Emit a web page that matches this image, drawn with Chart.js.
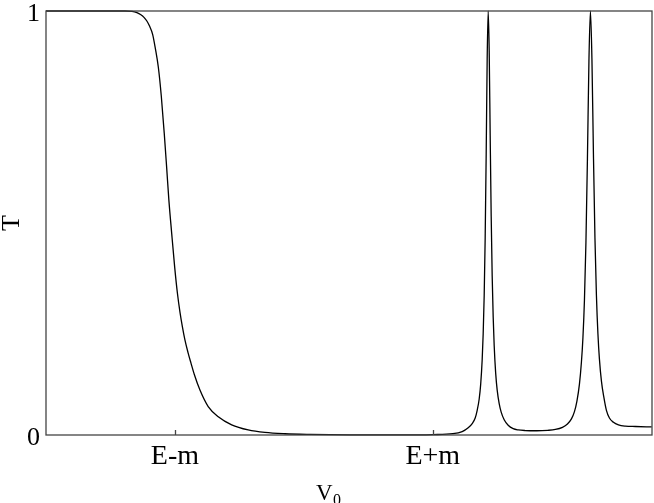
<!DOCTYPE html>
<html>
<head>
<meta charset="utf-8">
<script src="https://cdn.jsdelivr.net/npm/chart.js@4.4.0/dist/chart.umd.min.js"></script>
<style>
  html, body { margin: 0; padding: 0; background: #fff; }
</style>
</head>
<body>
<canvas id="chart" width="654" height="503"></canvas>
<script>
// V0 in units where E-m = -1 and E+m = 1, T = transmission

// step down around E-m
const dropV = [
  -2.000, -1.581, -1.388, -1.333, -1.295, -1.264, -1.240, -1.219, -1.198, -1.173,
  -1.151, -1.129, -1.106, -1.083, -1.064, -1.047, -1.025, -1.002, -0.981, -0.961,
  -0.942, -0.923, -0.899, -0.876, -0.849, -0.806, -0.742, -0.664, -0.560, -0.432,
  -0.302, -0.147, 0.047, 0.357, 0.744, 1.000
];
const dropT = [
  1.000, 1.000, 1.000, 0.999, 0.996, 0.991, 0.985, 0.977, 0.965, 0.945,
  0.910, 0.868, 0.800, 0.712, 0.630, 0.554, 0.475, 0.396, 0.335, 0.290,
  0.255, 0.225, 0.195, 0.170, 0.142, 0.106, 0.067, 0.043, 0.024, 0.012,
  0.006, 0.003, 0.0015, 0.0005, 0.0003, 0.001
];

// first resonance
const peak1V = [
  1.1551, 1.2279, 1.2745, 1.3055, 1.3287, 1.3442, 1.3597, 1.3714, 1.3830, 1.3907,
  1.3985, 1.4062, 1.4140, 1.4217, 1.4295, 1.4373, 1.4450, 1.4528, 1.4605, 1.4683,
  1.4760, 1.4876, 1.4993, 1.5148, 1.5303, 1.5535, 1.5845, 1.6233, 1.6621, 1.7163,
  1.8062
];
const peak1T = [
  0.003, 0.008, 0.017, 0.027, 0.040, 0.058, 0.085, 0.120, 0.178, 0.239,
  0.329, 0.466, 0.662, 0.887, 1.000, 0.906, 0.706, 0.516, 0.375, 0.278,
  0.211, 0.146, 0.106, 0.074, 0.054, 0.036, 0.023, 0.015, 0.012, 0.0105,
  0.010
];

// second resonance
const peak2V = [
  1.8910, 1.9512, 2.0054, 2.0442, 2.0752, 2.0985, 2.1178, 2.1372, 2.1527, 2.1644,
  2.1760, 2.1876, 2.1992, 2.2109, 2.2225, 2.2341, 2.2458, 2.2574, 2.2690, 2.2806,
  2.2923, 2.3078, 2.3272, 2.3465, 2.3698, 2.4008, 2.4396, 2.4938, 2.5713, 2.6980
];
const peak2T = [
  0.011, 0.013, 0.018, 0.026, 0.038, 0.055, 0.080, 0.120, 0.172, 0.230,
  0.318, 0.454, 0.651, 0.882, 1.000, 0.887, 0.662, 0.466, 0.329, 0.239,
  0.179, 0.127, 0.088, 0.058, 0.040, 0.030, 0.024, 0.021, 0.020, 0.019
];

const xTickValues = [-1, 1];
const xTickLabels = ['E-m', 'E+m'];
const yTickValues = [0, 1];
const yTickLabels = ['0', '1'];

const serif = "'Liberation Serif', 'Times New Roman', serif";

const vValues = dropV.concat(peak1V, peak2V);
const tValues = dropT.concat(peak1T, peak2T);
const points = vValues.map((v, i) => ({ x: v, y: tValues[i] }));

// box around the plot, inward ticks, axis titles
const framePlugin = {
  id: 'frame',
  afterDraw(chart) {
    const ctx = chart.ctx;
    const a = chart.chartArea;
    const xs = chart.scales.x;
    ctx.save();
    ctx.strokeStyle = '#444';
    ctx.lineWidth = 1.3;
    ctx.strokeRect(a.left, a.top, a.right - a.left, a.bottom - a.top);
    ctx.beginPath();
    xTickValues.forEach(v => {
      const px = Math.round(xs.getPixelForValue(v)) + 0.5;
      ctx.moveTo(px, a.bottom);
      ctx.lineTo(px, a.bottom - 5);
    });
    ctx.stroke();

    ctx.fillStyle = '#000';
    // y title
    ctx.save();
    ctx.translate(12, 223);
    ctx.rotate(-Math.PI / 2);
    ctx.font = '26px ' + serif;
    ctx.textAlign = 'center';
    ctx.textBaseline = 'middle';
    ctx.fillText('T', 0, 0);
    ctx.restore();

    // x title V with subscript 0
    ctx.textAlign = 'left';
    ctx.textBaseline = 'alphabetic';
    ctx.font = '23px ' + serif;
    ctx.fillText('V', 316, 500);
    ctx.font = '16px ' + serif;
    ctx.fillText('0', 333, 505);
    ctx.restore();
  }
};

new Chart(document.getElementById('chart'), {
  type: 'line',
  data: {
    datasets: [{
      data: points,
      borderColor: '#000',
      borderWidth: 1.3,
      pointRadius: 0,
      fill: false,
      cubicInterpolationMode: 'monotone',
      clip: 3
    }]
  },
  options: {
    responsive: false,
    animation: false,
    layout: { padding: { top: 11, right: 2, left: 0, bottom: 0 } },
    plugins: { legend: { display: false }, tooltip: { enabled: false } },
    scales: {
      x: {
        type: 'linear',
        min: -2,
        max: 2.7,
        afterBuildTicks: s => { s.ticks = xTickValues.map(v => ({ value: v })); },
        afterFit: s => { s.height = 68; s.paddingLeft = 0; s.paddingRight = 0; },
        grid: { display: false, drawTicks: false },
        border: { display: false },
        ticks: {
          padding: 5,
          color: '#000',
          font: { family: serif, size: 28 },
          maxRotation: 0,
          callback: v => xTickLabels[xTickValues.indexOf(v)]
        }
      },
      y: {
        min: 0,
        max: 1,
        afterBuildTicks: s => { s.ticks = yTickValues.map(v => ({ value: v })); },
        afterFit: s => { s.width = 46; s.paddingTop = 0; s.paddingBottom = 0; },
        grid: { display: false, drawTicks: false },
        border: { display: false },
        ticks: {
          padding: 6,
          labelOffset: 3,
          color: '#000',
          font: { family: serif, size: 26 },
          callback: v => yTickLabels[yTickValues.indexOf(v)]
        }
      }
    }
  },
  plugins: [framePlugin]
});
</script>
</body>
</html>
